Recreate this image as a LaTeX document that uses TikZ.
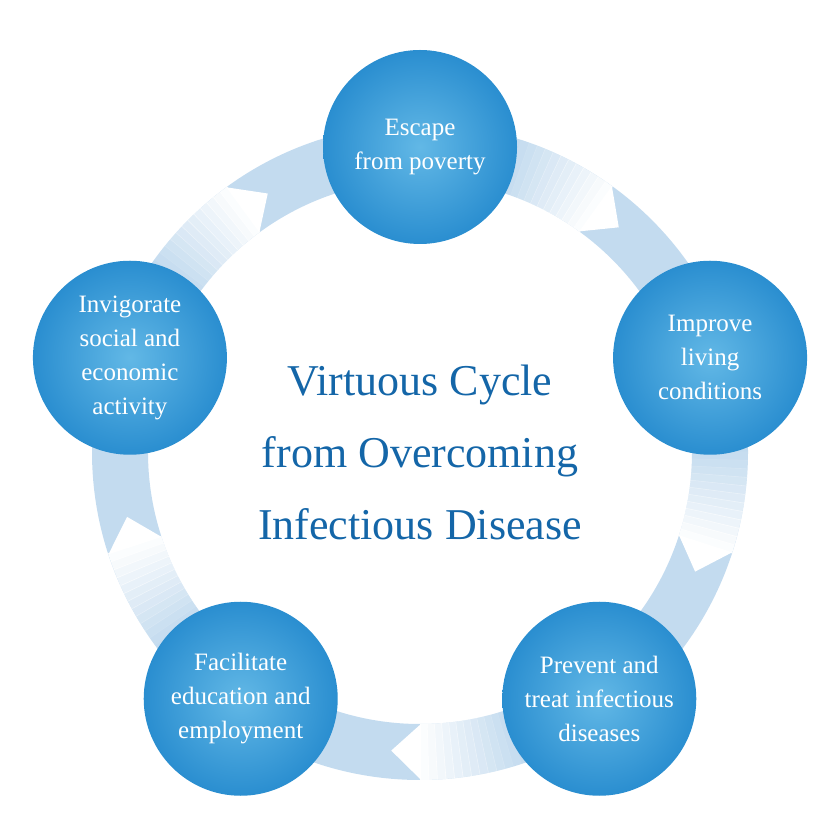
\documentclass[tikz,border=0pt]{standalone}
\usepackage{fontspec}
\setmainfont{Liberation Serif}
\begin{document}
\begin{tikzpicture}[x=1pt,y=1pt,
  ball/.style={circle,minimum size=194pt,inner sep=0pt,align=center,text=white,
    font=\fontsize{25}{34}\selectfont,
    inner color=ballin,outer color=ballout}]
\definecolor{ring}{HTML}{C3DBEF}
\definecolor{ballin}{HTML}{62B8E6}
\definecolor{ballout}{HTML}{2A8ED0}
\definecolor{title}{HTML}{1466A8}
\useasboundingbox (0,0) rectangle (840,840);
\coordinate (C) at (420,388);
\begin{scope}[shift={(C)}]
\fill[ring,even odd rule] (0,0) circle (328) (0,0) circle (272);
\foreach \t in {54,-18,-90,-162,126}{
  \foreach \k in {0,...,11}{
    \pgfmathsetmacro{\op}{0.95-0.08*\k}
    \fill[white,opacity=\op] (\t+1.5*\k:328) arc (\t+1.5*\k:\t+1.5*\k+1.6:328) -- (\t+1.5*\k+1.6:272) arc (\t+1.5*\k+1.6:\t+1.5*\k:272) -- cycle;
  }
  \fill[white] (\t+0.2:328) -- (\t-5.5:300) -- (\t+0.2:272) -- cycle;
}
\node[ball] (a) at (90:305) {Escape\\from poverty};
\node[ball] (b) at (18:305) {Improve\\living\\conditions};
\node[ball] (c) at (-54:305) {Prevent and\\treat infectious\\diseases};
\node[ball] (d) at (-126:305) {Facilitate\\education and\\employment};
\node[ball] (e) at (162:305) {Invigorate\\social and\\economic\\activity};
\node[align=center,text=title,font=\fontsize{44}{72}\selectfont] (t) at (0,0)
 {Virtuous Cycle\\from Overcoming\\Infectious Disease};
\end{scope}
\end{tikzpicture}
\end{document}
